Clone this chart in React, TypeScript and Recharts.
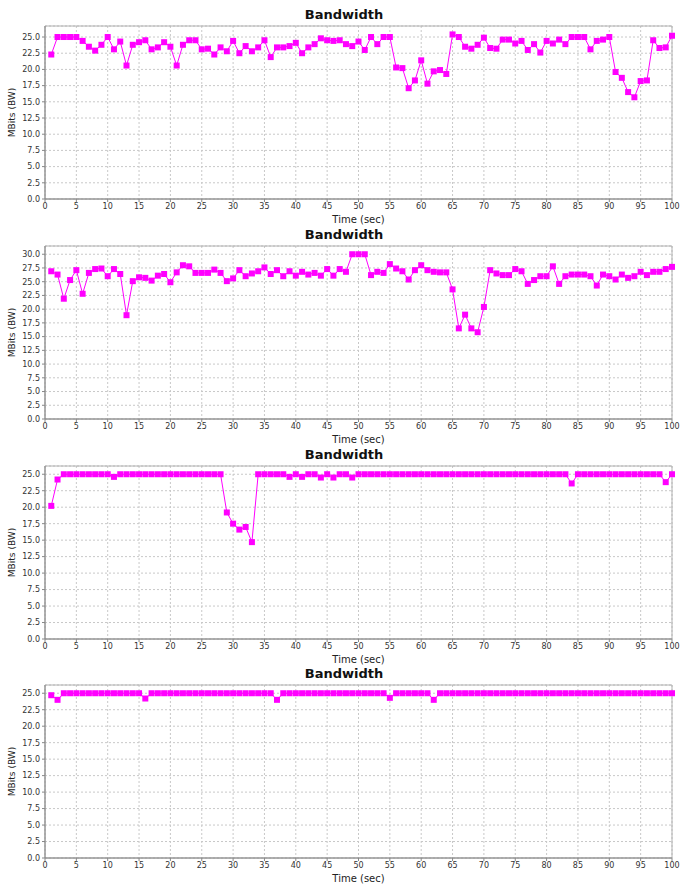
import React from 'react';
import { LineChart, Line, XAxis, YAxis, CartesianGrid, ReferenceArea, Label } from 'recharts';

const seconds = [
  1, 2, 3, 4, 5, 6, 7, 8, 9, 10, 11, 12, 13, 14, 15, 16, 17, 18, 19, 20,
  21, 22, 23, 24, 25, 26, 27, 28, 29, 30, 31, 32, 33, 34, 35, 36, 37, 38, 39, 40,
  41, 42, 43, 44, 45, 46, 47, 48, 49, 50, 51, 52, 53, 54, 55, 56, 57, 58, 59, 60,
  61, 62, 63, 64, 65, 66, 67, 68, 69, 70, 71, 72, 73, 74, 75, 76, 77, 78, 79, 80,
  81, 82, 83, 84, 85, 86, 87, 88, 89, 90, 91, 92, 93, 94, 95, 96, 97, 98, 99, 100,
];

const bw1 = [
  22.3, 25.0, 25.0, 25.0, 25.0, 24.4, 23.5, 22.9, 23.8, 25.0,
  23.1, 24.3, 20.6, 23.8, 24.2, 24.5, 23.1, 23.4, 24.2, 23.5,
  20.6, 23.8, 24.5, 24.5, 23.1, 23.2, 22.3, 23.4, 22.8, 24.4,
  22.5, 23.6, 22.8, 23.4, 24.5, 21.9, 23.4, 23.4, 23.6, 24.1,
  22.5, 23.4, 23.9, 24.8, 24.5, 24.4, 24.5, 23.9, 23.6, 24.3,
  23.0, 25.0, 23.9, 25.0, 25.0, 20.3, 20.2, 17.1, 18.3, 21.4,
  17.8, 19.7, 19.9, 19.3, 25.4, 25.0, 23.5, 23.2, 23.8, 24.9,
  23.3, 23.2, 24.6, 24.6, 24.0, 24.4, 23.0, 23.9, 22.6, 24.4,
  24.0, 24.6, 23.9, 25.0, 25.0, 25.0, 23.1, 24.4, 24.6, 25.0,
  19.6, 18.7, 16.5, 15.7, 18.2, 18.3, 24.5, 23.3, 23.4, 25.2,
];

const bw2 = [
  26.9, 26.3, 21.9, 25.3, 27.1, 22.8, 26.6, 27.3, 27.4, 26.0,
  27.3, 26.4, 18.9, 25.1, 25.8, 25.7, 25.2, 26.1, 26.4, 24.9,
  26.7, 28.0, 27.8, 26.6, 26.6, 26.6, 27.2, 26.6, 25.1, 25.6,
  27.1, 26.0, 26.5, 26.9, 27.6, 26.4, 27.1, 26.0, 26.9, 26.1,
  26.8, 26.3, 26.6, 26.1, 27.3, 26.1, 27.3, 26.8, 30.0, 30.0,
  30.0, 26.2, 26.8, 26.6, 28.2, 27.4, 26.9, 25.4, 27.1, 28.0,
  27.1, 26.8, 26.7, 26.7, 23.6, 16.5, 19.0, 16.5, 15.8, 20.4,
  27.1, 26.5, 26.2, 26.2, 27.3, 26.9, 24.6, 25.3, 26.0, 26.0,
  27.8, 24.6, 26.0, 26.3, 26.3, 26.3, 26.0, 24.3, 26.3, 26.0,
  25.4, 26.3, 25.7, 26.0, 26.8, 26.2, 26.8, 26.8, 27.3, 27.7,
];

const bw3 = [
  20.2, 24.2, 25, 25, 25, 25, 25, 25, 25, 25,
  24.6, 25, 25, 25, 25, 25, 25, 25, 25, 25,
  25, 25, 25, 25, 25, 25, 25, 25, 19.2, 17.5,
  16.6, 17.0, 14.7, 25, 25, 25, 25, 25, 24.6, 25,
  24.6, 25, 25, 24.5, 25, 24.5, 25, 25, 24.5, 25,
  25, 25, 25, 25, 25, 25, 25, 25, 25, 25,
  25, 25, 25, 25, 25, 25, 25, 25, 25, 25,
  25, 25, 25, 25, 25, 25, 25, 25, 25, 25,
  25, 25, 25, 23.6, 25, 25, 25, 25, 25, 25,
  25, 25, 25, 25, 25, 25, 25, 25, 23.8, 25,
];

const bw4 = [
  24.7, 24.0, 25, 25, 25, 25, 25, 25, 25, 25,
  25, 25, 25, 25, 25, 24.2, 25, 25, 25, 25,
  25, 25, 25, 25, 25, 25, 25, 25, 25, 25,
  25, 25, 25, 25, 25, 25, 24.0, 25, 25, 25,
  25, 25, 25, 25, 25, 25, 25, 25, 25, 25,
  25, 25, 25, 25, 24.3, 25, 25, 25, 25, 25,
  25, 24.0, 25, 25, 25, 25, 25, 25, 25, 25,
  25, 25, 25, 25, 25, 25, 25, 25, 25, 25,
  25, 25, 25, 25, 25, 25, 25, 25, 25, 25,
  25, 25, 25, 25, 25, 25, 25, 25, 25, 25,
];

const xTicks = [0, 5, 10, 15, 20, 25, 30, 35, 40, 45, 50, 55, 60, 65, 70, 75, 80, 85, 90, 95, 100];
const yTicks25 = [0, 2.5, 5, 7.5, 10, 12.5, 15, 17.5, 20, 22.5, 25];
const yTicks30 = [0, 2.5, 5, 7.5, 10, 12.5, 15, 17.5, 20, 22.5, 25, 27.5, 30];

const TITLE = 'Bandwidth';
const X_LABEL = 'Time (sec)';
const Y_LABEL = 'MBits (BW)';

const FONT = '"DejaVu Sans", Verdana, sans-serif';
const MAGENTA = '#ff00ff';

const SquareDot = (props: any) => {
  const { cx, cy, index } = props;
  if (cx == null || cy == null) return <g key={`d-${index}`} />;
  return <rect key={`d-${index}`} x={cx - 3} y={cy - 3} width={6} height={6} fill={MAGENTA} />;
};

const YLabel = (props: any) => {
  const vb = props.viewBox || { x: 0, y: 0, width: 0, height: 0 };
  const cx = 12;
  const cy = vb.y + vb.height / 2;
  return (
    <text
      x={cx}
      y={cy}
      transform={`rotate(-90, ${cx}, ${cy})`}
      textAnchor="middle"
      dominantBaseline="central"
      fontSize={9}
      fontFamily={FONT}
      fill="#222"
    >
      {Y_LABEL}
    </text>
  );
};

type PanelProps = { values: number[]; yMax: number; yTicks: number[]; top: number };

const Panel = ({ values, yMax, yTicks, top }: PanelProps) => {
  const data = seconds.map((s, i) => ({ t: s, bw: values[i] }));
  return (
    <div style={{ position: 'absolute', left: 0, top, width: 680, height: 225 }}>
      <div
        style={{
          position: 'absolute',
          left: 4,
          top: 7,
          width: 680,
          textAlign: 'center',
          fontFamily: FONT,
          fontWeight: 'bold',
          fontSize: 13,
          lineHeight: '16px',
          color: '#111',
        }}
      >
        {TITLE}
      </div>
      <LineChart width={680} height={225} data={data} margin={{ top: 26, right: 8, bottom: 0, left: 0 }}>
        <CartesianGrid stroke="#c8c8c8" strokeDasharray="2 2" />
        <ReferenceArea x1={0} x2={100} y1={0} y2={yMax} fill="none" stroke="#b0b0b0" strokeWidth={1} ifOverflow="extendDomain" />
        <XAxis
          dataKey="t"
          type="number"
          domain={[0, 100]}
          ticks={xTicks}
          interval={0}
          height={26}
          tickSize={3}
          tickMargin={1}
          stroke="#888"
          tick={{ fontSize: 8, fontFamily: FONT, fill: '#333' }}
        >
          <Label value={X_LABEL} position="insideBottom" offset={2} fontSize={10} fontFamily={FONT} fill="#222" />
        </XAxis>
        <YAxis
          type="number"
          domain={[0, yMax]}
          ticks={yTicks}
          interval={0}
          width={45}
          tickSize={3}
          tickMargin={2}
          stroke="#888"
          allowDataOverflow
          tickFormatter={(v: number) => v.toFixed(1)}
          tick={{ fontSize: 8, fontFamily: FONT, fill: '#333' }}
          label={<YLabel />}
        />
        <Line
          type="linear"
          dataKey="bw"
          stroke={MAGENTA}
          strokeWidth={1}
          dot={SquareDot}
          activeDot={false}
          isAnimationActive={false}
        />
      </LineChart>
    </div>
  );
}

export default function App() {
  return (
    <div style={{ position: 'absolute', left: 0, top: 0, width: 680, height: 885, background: '#fff' }}>
      <Panel values={bw1} yMax={26.7} yTicks={yTicks25} top={0} />
      <Panel values={bw2} yMax={31.5} yTicks={yTicks30} top={220} />
      <Panel values={bw3} yMax={26.25} yTicks={yTicks25} top={440} />
      <Panel values={bw4} yMax={26.25} yTicks={yTicks25} top={659} />
    </div>
  );
}
